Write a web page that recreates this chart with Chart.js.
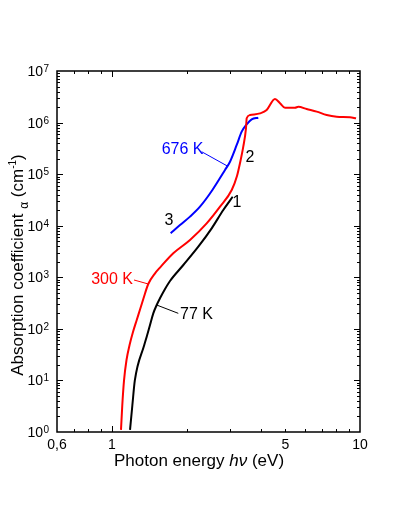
<!DOCTYPE html>
<html>
<head>
<meta charset="utf-8">
<script src="https://cdn.jsdelivr.net/npm/chart.js@4/dist/chart.umd.min.js"></script>
<style>
    html, body { margin: 0; padding: 0; background: #fff; }
</style>
</head>
<body>
<canvas id="chartAbsorcion" width="396" height="510"></canvas>
<script>
// Energía del fotón (eV) y coeficiente de absorción (cm^-1) por temperatura
const energia77 = [1.182, 1.208, 1.236, 1.349, 1.380, 1.423, 1.467, 1.514, 1.561, 1.636, 1.713, 1.939, 2.228, 2.523, 2.810, 3.067];
const alfa77 = [1.1, 3.3, 10, 48.7, 70.5, 119, 200, 290, 391, 593, 848, 1730, 3920, 8900, 20200, 36500];

const energia300 = [1.087, 1.100, 1.118, 1.144, 1.177, 1.215, 1.258, 1.297, 1.337, 1.400, 1.491, 1.561, 1.766, 2.063, 2.408, 2.726, 3.039, 3.191, 3.282, 3.383, 3.469, 3.492, 3.601, 3.952, 4.204, 4.541, 4.759, 4.985, 5.469, 5.639, 6.096, 6.69, 7.34, 8.05, 9.11, 9.64];
const alfa300 = [1.1, 3.3, 10, 24.9, 48.7, 86.9, 149, 237, 379, 741, 1194, 1542, 2920, 5290, 11100, 23400, 49300, 92000, 164000, 341000, 774000, 1.21e6, 1.40e6, 1.51e6, 1.75e6, 2.87e6, 2.37e6, 1.94e6, 1.94e6, 2.03e6, 1.83e6, 1.63e6, 1.40e6, 1.30e6, 1.27e6, 1.21e6];

const energia676 = [1.724, 1.880, 2.063, 2.263, 2.54, 2.855, 2.991, 3.183, 3.334, 3.492, 3.658, 3.889];
const alfa676 = [7130, 10300, 15000, 23400, 49300, 120300, 174300, 367600, 665700, 926000, 1.157e6, 1.243e6];

// Ejes
const ticksX = [0.7, 0.8, 0.9, 1, 2, 3, 4, 5, 6, 7, 8, 9];
const ticksXMayores = [1];
const etiquetasX = [0.6, 1, 5, 10];
const textosX = ['0,6', '1', '5', '10'];
const decadasY = [0, 1, 2, 3, 4, 5, 6, 7];

// Etiquetas dentro del gráfico (coordenadas en datos)
const etiquetas = [
    { texto: '676 K', e: 1.586, a: 2.94e5, color: '#0000ff', alinear: 'left' },
    { texto: '300 K', e: 1.215, a: 886, color: '#ff0000', alinear: 'right' },
    { texto: '77 K', e: 1.880, a: 186, color: '#000000', alinear: 'left' },
    { texto: '1', e: 3.191, a: 27600, color: '#000000', alinear: 'center' },
    { texto: '2', e: 3.601, a: 2.06e5, color: '#000000', alinear: 'center' },
    { texto: '3', e: 1.697, a: 12350, color: '#000000', alinear: 'center' }
];
const flechas = [
    { desde: [2.299, 2.72e5], hasta: [2.916, 1.44e5], color: '#0000ff' },
    { desde: [1.2265, 886], hasta: [1.400, 741], color: '#ff0000' },
    { desde: [1.514, 290], hasta: [1.850, 200], color: '#000000' }
];

const FUENTE = '"Liberation Sans", Arial, sans-serif';

const puntos = (xs, ys) => xs.map((v, i) => ({ x: v, y: ys[i] }));

// Dibuja marco, marcas, números y títulos
const pluginEjes = {
    id: 'ejes',
    afterDraw(chart) {
        const { ctx, chartArea: a, scales: { x, y } } = chart;
        ctx.save();
        const linea = (x1, y1, x2, y2) => {
            ctx.beginPath();
            ctx.moveTo(x1, y1);
            ctx.lineTo(x2, y2);
            ctx.stroke();
        };

        // Flechas de las etiquetas
        ctx.lineWidth = 1;
        flechas.forEach(f => {
            ctx.strokeStyle = f.color;
            linea(x.getPixelForValue(f.desde[0]), y.getPixelForValue(f.desde[1]),
                  x.getPixelForValue(f.hasta[0]), y.getPixelForValue(f.hasta[1]));
        });

        // Marco
        ctx.strokeStyle = '#000';
        ctx.lineWidth = 1.5;
        ctx.strokeRect(a.left, a.top, a.right - a.left, a.bottom - a.top);

        // Marcas eje x (hacia adentro, arriba y abajo)
        ctx.lineWidth = 1;
        ticksX.forEach(v => {
            const px = Math.round(x.getPixelForValue(v)) + 0.5;
            const largo = ticksXMayores.includes(v) ? 6 : 3;
            linea(px, a.bottom, px, a.bottom - largo);
            linea(px, a.top, px, a.top + largo);
        });

        // Marcas eje y
        decadasY.forEach(d => {
            if (d > 0 && d < 7) {
                const py = Math.round(y.getPixelForValue(Math.pow(10, d))) + 0.5;
                linea(a.left, py, a.left + 6, py);
                linea(a.right, py, a.right - 6, py);
            }
            if (d < 7) {
                for (let m = 2; m <= 9; m++) {
                    const py = Math.round(y.getPixelForValue(m * Math.pow(10, d))) + 0.5;
                    linea(a.left, py, a.left + 3, py);
                    linea(a.right, py, a.right - 3, py);
                }
            }
        });

        // Números eje x
        ctx.fillStyle = '#000';
        ctx.font = '14px ' + FUENTE;
        ctx.textAlign = 'center';
        ctx.textBaseline = 'alphabetic';
        etiquetasX.forEach((v, i) => {
            ctx.fillText(textosX[i], x.getPixelForValue(v), a.bottom + 17);
        });

        // Números eje y: 10 con exponente
        decadasY.forEach(d => {
            const py = y.getPixelForValue(Math.pow(10, d));
            ctx.font = '14px ' + FUENTE;
            ctx.textAlign = 'right';
            ctx.fillText('10', a.left - 14, py + 5);
            ctx.font = '10px ' + FUENTE;
            ctx.textAlign = 'left';
            ctx.fillText(String(d), a.left - 13.5, py + 1);
        });

        // Título eje x
        const partesX = [
            { t: 'Photon energy ', f: '17px ' + FUENTE },
            { t: 'hν', f: 'italic 17px ' + FUENTE },
            { t: ' (eV)', f: '17px ' + FUENTE }
        ];
        let ancho = 0;
        partesX.forEach(p => { ctx.font = p.f; p.w = ctx.measureText(p.t).width; ancho += p.w; });
        let cx = 199 - ancho / 2;
        ctx.textAlign = 'left';
        partesX.forEach(p => { ctx.font = p.f; ctx.fillText(p.t, cx, 466); cx += p.w; });

        // Título eje y (rotado)
        const partesY = [
            { t: 'Absorption coefficient ', f: '17px ' + FUENTE, dy: 0 },
            { t: 'α', f: '12px ' + FUENTE, dy: 5 },
            { t: ' (cm', f: '17px ' + FUENTE, dy: 0 },
            { t: '-1', f: '10px ' + FUENTE, dy: -7 },
            { t: ')', f: '17px ' + FUENTE, dy: 0 }
        ];
        ctx.translate(23, 265);
        ctx.rotate(-Math.PI / 2);
        ancho = 0;
        partesY.forEach(p => { ctx.font = p.f; p.w = ctx.measureText(p.t).width; ancho += p.w; });
        cx = -ancho / 2;
        partesY.forEach(p => { ctx.font = p.f; ctx.fillText(p.t, cx, p.dy); cx += p.w; });
        ctx.setTransform(1, 0, 0, 1, 0, 0);

        // Etiquetas de las curvas
        ctx.font = '16px ' + FUENTE;
        ctx.textBaseline = 'middle';
        etiquetas.forEach(et => {
            ctx.fillStyle = et.color;
            ctx.textAlign = et.alinear;
            ctx.fillText(et.texto, x.getPixelForValue(et.e), y.getPixelForValue(et.a));
        });
        ctx.restore();
    }
};

const ctx = document.getElementById('chartAbsorcion').getContext('2d');
new Chart(ctx, {
    type: 'line',
    data: {
        datasets: [
            { label: '77 K', data: puntos(energia77, alfa77), borderColor: '#000000' },
            { label: '300 K', data: puntos(energia300, alfa300), borderColor: '#ff0000' },
            { label: '676 K', data: puntos(energia676, alfa676), borderColor: '#0000ff' }
        ]
    },
    options: {
        responsive: false,
        animation: false,
        events: [],
        layout: { padding: { left: 57, top: 71, right: 36, bottom: 78 } },
        elements: {
            line: { borderWidth: 2, cubicInterpolationMode: 'monotone', fill: false },
            point: { radius: 0 }
        },
        plugins: {
            legend: { display: false },
            tooltip: { enabled: false }
        },
        scales: {
            x: { type: 'logarithmic', min: 0.6, max: 10, display: false },
            y: { type: 'logarithmic', min: 1, max: 1e7, display: false }
        }
    },
    plugins: [pluginEjes]
});
</script>
</body>
</html>
